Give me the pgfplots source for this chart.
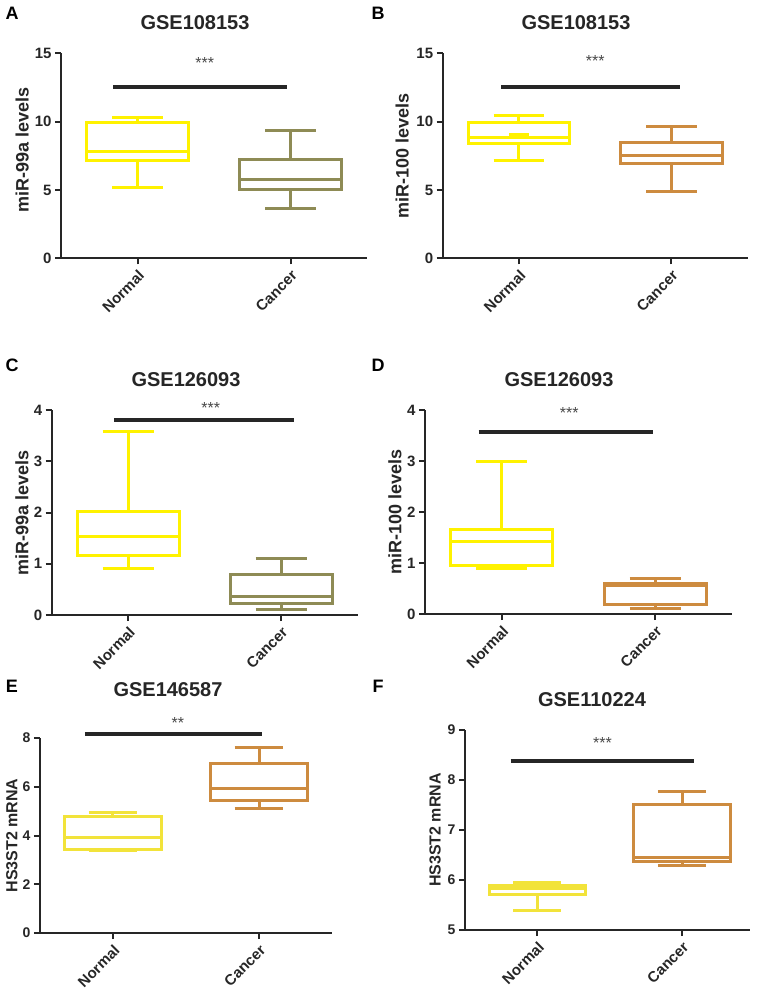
\documentclass[border=0pt]{standalone}
\usepackage{fontspec}
\setmainfont{Liberation Sans}
\usepackage{pgfplots}
\pgfplotsset{compat=1.18}
\usepgfplotslibrary{statistics}
\definecolor{ylw}{HTML}{FFF200}
\definecolor{ylwb}{HTML}{F2E33A}
\definecolor{olv}{HTML}{8E8B55}
\definecolor{org}{HTML}{CD8B3F}
\definecolor{axg}{HTML}{262626}
\newcommand{\fs}[1]{\fontsize{#1}{#1}\selectfont}
\tikzset{stars/.style={font=\fs{16}, text=axg!85}}
\pgfplotsset{
  panel/.style={
    scale only axis, clip=false, anchor=south west,
    boxplot/draw direction=y,
    axis x line=bottom, axis y line=left,
    axis line style={-, line width=2pt, draw=axg},
    every tick/.style={line width=2pt, draw=axg},
    tick align=outside, major tick length=6pt,
    xmin=0.5, xmax=2.5, xtick={1,2}, xticklabels={Normal,Cancer},
    xticklabel style={rotate=45, anchor=north east, font=\fs{15}\bfseries, text=axg},
    yticklabel style={font=\fs{15}\bfseries, text=axg},
    /pgf/number format/assume math mode=true,
    ylabel style={font=\fs{18}\bfseries, text=axg, anchor=center},
  },
  bx/.style={line width=3pt, boxplot prepared={box extend=0.667, whisker extend=0.333, #1}},
  sig/.style={axg, line width=4pt},
}
\begin{document}
\begin{tikzpicture}
\path[use as bounding box] (0,0) rectangle (759pt,-991pt);

% A
\begin{axis}[panel, at={(61pt,-258.3pt)}, width=306pt, height=205pt,
  ymin=0, ymax=15, ytick={0,5,10,15}, ylabel={miR-99a levels},
  ylabel style={at={(axis description cs:-0.127,0.53)}}]
\addplot[ylw, bx={draw position=1, lower whisker=5.17, lower quartile=7.15, median=7.8, upper quartile=9.93, upper whisker=10.32}] coordinates {};
\addplot[olv, bx={draw position=2, lower whisker=3.61, lower quartile=5.0, median=5.73, upper quartile=7.24, upper whisker=9.34}] coordinates {};
\addplot[sig] coordinates {(0.843,12.56) (1.974,12.56)};
\node[stars] at (axis cs:1.44,14.3) {***};
\end{axis}

% B
\begin{axis}[panel, at={(442.7pt,-258.3pt)}, width=305pt, height=205pt,
  ymin=0, ymax=15, ytick={0,5,10,15}, ylabel={miR-100 levels},
  ylabel style={at={(axis description cs:-0.133,0.5)}}]
\addplot[ylw, bx={draw position=1, lower whisker=7.15, lower quartile=8.37, median=8.85, upper quartile=9.95, upper whisker=10.44}] coordinates {};
\addplot[ylw, line width=4pt] coordinates {(0.935,9.02) (1.065,9.02)};
\addplot[org, bx={draw position=2, lower whisker=4.9, lower quartile=6.95, median=7.54, upper quartile=8.46, upper whisker=9.68}] coordinates {};
\addplot[sig] coordinates {(0.883,12.5) (2.058,12.5)};
\node[stars] at (axis cs:1.5,14.45) {***};
\end{axis}

% C
\begin{axis}[panel, at={(51.7pt,-615pt)}, width=306pt, height=205pt,
  ymin=0, ymax=4, ytick={0,1,2,3,4}, ylabel={miR-99a levels},
  ylabel style={at={(axis description cs:-0.097,0.5)}}]
\addplot[ylw, bx={draw position=1, lower whisker=0.90, lower quartile=1.17, median=1.53, upper quartile=2.02, upper whisker=3.58}] coordinates {};
\addplot[olv, bx={draw position=2, lower whisker=0.11, lower quartile=0.23, median=0.36, upper quartile=0.79, upper whisker=1.11}] coordinates {};
\addplot[sig] coordinates {(0.909,3.80) (2.084,3.80)};
\node[stars] at (axis cs:1.54,4.04) {***};
\end{axis}

% D
\begin{axis}[panel, at={(425pt,-614pt)}, width=307pt, height=204pt,
  ymin=0, ymax=4, ytick={0,1,2,3,4}, ylabel={miR-100 levels},
  ylabel style={at={(axis description cs:-0.098,0.5)}}]
\addplot[ylw, bx={draw position=1, lower whisker=0.89, lower quartile=0.95, median=1.42, upper quartile=1.65, upper whisker=3.0}] coordinates {};
\addplot[org, bx={draw position=2, lower whisker=0.10, lower quartile=0.18, median=0.55, upper quartile=0.59, upper whisker=0.69}] coordinates {};
\addplot[sig] coordinates {(0.85,3.56) (1.987,3.56)};
\node[stars] at (axis cs:1.44,3.94) {***};
\end{axis}

% E
\begin{axis}[panel, at={(40pt,-933pt)}, width=292pt, height=195pt,
  ymin=0, ymax=8, ytick={0,2,4,6,8}, ylabel={HS3ST2 mRNA},
  yticklabel style={font=\fs{14}\bfseries},
  ylabel style={font=\fs{16}\bfseries, at={(axis description cs:-0.096,0.5)}}]
\addplot[ylwb, bx={draw position=1, lower whisker=3.38, lower quartile=3.42, median=3.90, upper quartile=4.79, upper whisker=4.95}] coordinates {};
\addplot[org, bx={draw position=2, lower whisker=5.09, lower quartile=5.44, median=5.91, upper quartile=6.96, upper whisker=7.6}] coordinates {};
\addplot[sig] coordinates {(0.808,8.16) (2.02,8.16)};
\node[stars] at (axis cs:1.445,8.6) {**};
\end{axis}

% F
\begin{axis}[panel, at={(465pt,-930pt)}, width=285pt, height=200pt,
  xmax=2.47, ymin=5, ymax=9, ytick={5,6,7,8,9}, ylabel={HS3ST2 mRNA},
  yticklabel style={font=\fs{14}\bfseries},
  ylabel style={font=\fs{16}\bfseries, at={(axis description cs:-0.105,0.5)}}]
\addplot[ylwb, bx={draw position=1, lower whisker=5.40, lower quartile=5.72, median=5.83, upper quartile=5.89, upper whisker=5.95}] coordinates {};
\addplot[org, bx={draw position=2, lower whisker=6.30, lower quartile=6.37, median=6.45, upper quartile=7.51, upper whisker=7.77}] coordinates {};
\addplot[sig] coordinates {(0.815,8.39) (2.08,8.39)};
\node[stars] at (axis cs:1.45,8.74) {***};
\end{axis}

% titles and panel letters
\begin{scope}[every node/.style={font=\fs{20}\bfseries, text=axg}]
\node at (195pt,-23pt) {GSE108153};
\node at (576pt,-23pt) {GSE108153};
\node at (186pt,-380pt) {GSE126093};
\node at (559pt,-380pt) {GSE126093};
\node at (168pt,-690pt) {GSE146587};
\node at (592pt,-700pt) {GSE110224};
\end{scope}
\begin{scope}[every node/.style={font=\fs{18}\bfseries, text=black}]
\node at (12pt,-13pt) {A};
\node at (378pt,-13pt) {B};
\node at (12pt,-365pt) {C};
\node at (378pt,-365pt) {D};
\node at (12pt,-686pt) {E};
\node at (378pt,-686pt) {F};
\end{scope}
\end{tikzpicture}
\end{document}
